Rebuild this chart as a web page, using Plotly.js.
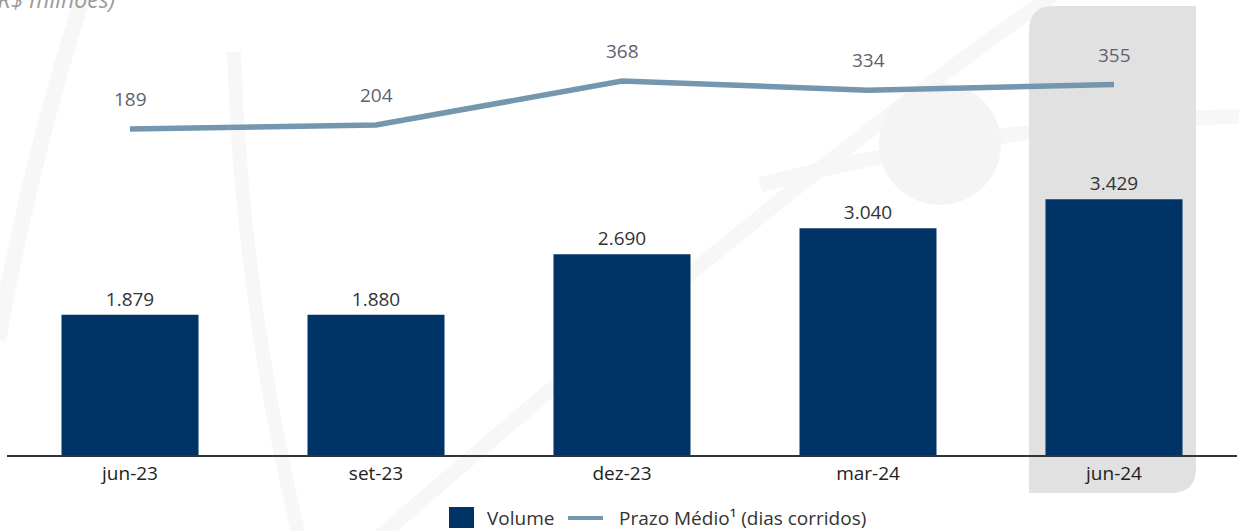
<!DOCTYPE html>
<html>
<head>
<meta charset="utf-8">
<script src="https://cdn.plot.ly/plotly-3.0.1.min.js"></script>
<style>html,body{margin:0;padding:0;background:#fff;overflow:hidden;}#chart{width:1239px;height:531px;}</style>
</head>
<body>
<div id="chart"></div>
<script>
const categories = ['jun-23', 'set-23', 'dez-23', 'mar-24', 'jun-24'];
const volume = [1879, 1880, 2690, 3040, 3429];
const prazoMedio = [189, 204, 368, 334, 355];
const seriesNames = ['Volume', 'Prazo Médio¹ (dias corridos)'];

const FONT = '"Open Sans", "Noto Sans", sans-serif';
const BAR_COLOR = '#003366';
const LINE_COLOR = '#7496ae';

const W = 1239, H = 531, ML = 7, MR = 2, MT = 0, MB = 76;
const PW = W - ML - MR, PH = H - MT - MB;
const px = v => (v - ML) / PW;
const py = v => (H - MB - v) / PH;

const barTrace = {
  type: 'bar', name: seriesNames[0], x: categories, y: volume,
  marker: {color: BAR_COLOR}, width: 0.557,
  texttemplate: '%{y:,.0f}', textposition: 'outside', cliponaxis: false,
  textfont: {family: FONT, size: 19, color: '#333333'},
  hoverinfo: 'skip', showlegend: false
};
const lineTrace = {
  type: 'scatter', mode: 'lines', name: seriesNames[1],
  x: categories, y: prazoMedio, yaxis: 'y2',
  line: {color: LINE_COLOR, width: 5.5}, cliponaxis: false, hoverinfo: 'skip', showlegend: false
};

const lineLabels = categories.map((c, i) => ({
  x: c, y: prazoMedio[i], xref: 'x', yref: 'y2', text: String(prazoMedio[i]),
  showarrow: false, yshift: 30, font: {family: FONT, size: 19, color: '#5f6170'}
}));

// highlight column (rounded top-left & bottom-right)
const x0 = px(1029), x1 = px(1196), y0 = py(493), y1 = py(6);
const rx = 25 / PW, ry = 25 / PH;
const hlPath = `M ${x0} ${y0} L ${x0} ${y1 - ry} Q ${x0} ${y1} ${x0 + rx} ${y1} L ${x1} ${y1} L ${x1} ${y0 + ry} Q ${x1} ${y0} ${x1 - rx} ${y0} Z`;

const WM = '#f7f7f7';
const shapes = [
  // faint watermark decorations
  {type: 'path', xref: 'paper', yref: 'paper', layer: 'below',
   path: `M ${px(85)} ${py(-10)} Q ${px(30)} ${py(160)} ${px(-2)} ${py(340)}`,
   line: {color: WM, width: 16}},
  {type: 'path', xref: 'paper', yref: 'paper', layer: 'below',
   path: `M ${px(234)} ${py(52)} Q ${px(242)} ${py(300)} ${px(300)} ${py(540)}`,
   line: {color: WM, width: 14}},
  {type: 'path', xref: 'paper', yref: 'paper', layer: 'below',
   path: `M ${px(370)} ${py(545)} Q ${px(800)} ${py(170)} ${px(1060)} ${py(-10)}`,
   line: {color: WM, width: 15}},
  {type: 'path', xref: 'paper', yref: 'paper', layer: 'below',
   path: `M ${px(760)} ${py(185)} Q ${px(1000)} ${py(122)} ${px(1245)} ${py(116)}`,
   line: {color: WM, width: 15}},
  {type: 'circle', xref: 'paper', yref: 'paper', layer: 'below',
   x0: px(879), x1: px(1001), y0: py(205), y1: py(83),
   fillcolor: '#f4f4f4', line: {width: 0}},
  {type: 'path', xref: 'paper', yref: 'paper', layer: 'below',
   path: hlPath, fillcolor: '#e1e1e1', line: {width: 0}},
  // legend symbols
  {type: 'rect', xref: 'paper', yref: 'paper', layer: 'above',
   x0: px(449), x1: px(474), y0: py(528), y1: py(507),
   fillcolor: BAR_COLOR, line: {width: 0}},
  {type: 'line', xref: 'paper', yref: 'paper', layer: 'above',
   x0: px(568), x1: px(603), y0: py(518), y1: py(518),
   line: {color: LINE_COLOR, width: 4}}
];

const layout = {
  width: W, height: H,
  margin: {l: ML, r: MR, t: MT, b: MB, pad: 0, autoexpand: false},
  paper_bgcolor: '#ffffff', plot_bgcolor: 'rgba(0,0,0,0)',
  separators: ',.',
  font: {family: FONT, size: 19, color: '#222222'},
  showlegend: false,
  xaxis: {type: 'category', range: [-0.5, 4.5], showgrid: false, zeroline: false,
          showline: true, linecolor: '#2e3440', linewidth: 2, ticks: '',
          tickfont: {family: FONT, size: 19, color: '#222222'}, fixedrange: true},
  yaxis: {range: [0, 6099], visible: false, showgrid: false, zeroline: false, fixedrange: true},
  yaxis2: {range: [-1027, 670.5], overlaying: 'y', visible: false, showgrid: false,
           zeroline: false, fixedrange: true},
  shapes: shapes,
  annotations: [
    {xref: 'paper', yref: 'paper', x: px(117), y: py(-1), xanchor: 'right', yanchor: 'middle',
     text: '<i>(R$ milhões)</i>', showarrow: false,
     font: {family: FONT, size: 23, color: '#9a9a9a'}},
    {xref: 'paper', yref: 'paper', x: px(485), y: py(518), xanchor: 'left', yanchor: 'middle',
     text: seriesNames[0], showarrow: false, font: {family: FONT, size: 19, color: '#333333'}},
    {xref: 'paper', yref: 'paper', x: px(617), y: py(518), xanchor: 'left', yanchor: 'middle',
     text: seriesNames[1], showarrow: false, font: {family: FONT, size: 19, color: '#333333'}}
  ].concat(lineLabels)
};

Plotly.newPlot('chart', [barTrace, lineTrace], layout, {displayModeBar: false, staticPlot: true});
</script>
</body>
</html>
